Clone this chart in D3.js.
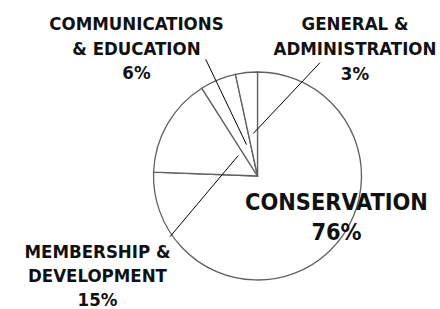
<!DOCTYPE html>
<html>
<head>
<meta charset="utf-8">
<script src="https://cdn.jsdelivr.net/npm/d3@7"></script>
<style>
  html, body { margin: 0; padding: 0; background: #fff; }
  svg { display: block; }
  text { font-family: "DejaVu Sans Condensed", "DejaVu Sans", sans-serif; font-stretch: condensed; font-weight: bold; fill: #111; }
</style>
</head>
<body>
<svg id="chart" width="440" height="309"></svg>
<script>
// ---- data ----
const categories = ["CONSERVATION", "MEMBERSHIP & DEVELOPMENT", "COMMUNICATIONS & EDUCATION", "GENERAL & ADMINISTRATION"];
const labelLines = [["CONSERVATION"], ["MEMBERSHIP &", "DEVELOPMENT"], ["COMMUNICATIONS", "& EDUCATION"], ["GENERAL &", "ADMINISTRATION"]];
const shares = [75.6, 15.4, 5.6, 3.4];

// ---- layout ----
const W = 440, H = 309;
const cx = 257.5, cy = 176, R = 104;
const labelPos = [
  { x: 336.5, y: 209.5, size: 23.3, lh: 30.5, leader: null },
  { x: 97.5, y: 257.8, size: 18.5, lh: 24.3, leader: { x: 170, y: 236.7, t: 0.80, f: 0.27 } },
  { x: 136.5, y: 30, size: 18.5, lh: 24.5, leader: { x: 205.7, y: 59.3, t: 0.65, f: 0.32 } },
  { x: 355, y: 30, size: 18.5, lh: 25, leader: { x: 320, y: 62.7, t: 0.53, f: 0.41 } }
];

const svg = d3.select("#chart");
const data = categories.map((c, i) => ({ name: c, value: shares[i], i }));

const pie = d3.pie().sort(null).value(d => d.value);
const arcs = pie(data);
const arc = d3.arc().innerRadius(0).outerRadius(R);

const g = svg.append("g").attr("transform", `translate(${cx},${cy})`);
g.selectAll("path.slice")
  .data(arcs)
  .join("path")
  .attr("class", "slice")
  .attr("d", arc)
  .attr("fill", "#fff")
  .attr("stroke", "#606060")
  .attr("stroke-width", 1.3)
  .attr("stroke-linejoin", "miter");

// leader lines
arcs.forEach((a, i) => {
  const L = labelPos[i].leader;
  if (!L) return;
  const ang = a.startAngle + L.t * (a.endAngle - a.startAngle);
  const r = L.f * R;
  const px = cx + r * Math.sin(ang), py = cy - r * Math.cos(ang);
  svg.append("line")
    .attr("x1", L.x).attr("y1", L.y)
    .attr("x2", px).attr("y2", py)
    .attr("stroke", "#000")
    .attr("stroke-width", 1);
});

// labels
arcs.forEach((a, i) => {
  const p = labelPos[i];
  const lines = labelLines[i].concat([Math.round(a.data.value) + "%"]);
  const t = svg.append("text")
    .attr("text-anchor", "middle")
    .attr("font-size", p.size);
  lines.forEach((ln, k) => {
    t.append("tspan").attr("x", p.x).attr("y", p.y + k * p.lh).text(ln);
  });
});
</script>
</body>
</html>
